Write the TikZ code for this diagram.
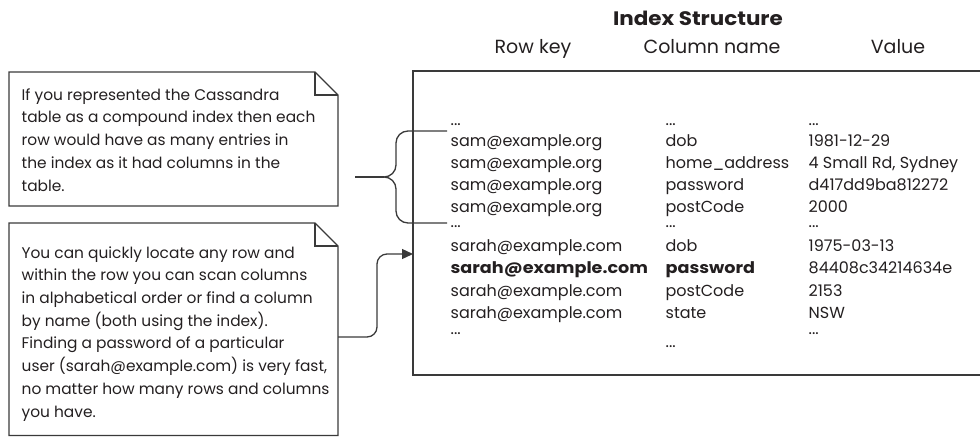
\documentclass[tikz,border=0pt]{standalone}
\usepackage{fontspec}
\setmainfont{Poppins}[BoldFeatures={FakeStretch=1.1}]
\usetikzlibrary{arrows.meta}
\definecolor{ink}{HTML}{3A3A3A}
\definecolor{txt}{HTML}{231F20}
\begin{document}
\begin{tikzpicture}[x=1pt,y=-1pt,line width=1.3pt,draw=ink,
  notetext/.style={anchor=north west,inner sep=0pt,align=left,font=\fontsize{15.4}{22.7}\selectfont,text=txt},
  cell/.style={anchor=base west,inner sep=0pt,font=\fontsize{16}{19}\selectfont,text=txt},
  bcell/.style={anchor=base west,inner sep=0pt,font=\fontsize{16}{19}\selectfont\bfseries,text=txt},
  head/.style={anchor=base,inner sep=0pt,font=\fontsize{19}{22}\selectfont,text=txt},
  title/.style={anchor=base,inner sep=0pt,font=\fontsize{19.5}{22}\selectfont\bfseries,text=txt}]
\useasboundingbox (0,0) rectangle (980,437);

% ---- note 1
\draw[line join=miter] (9,72) -- (315,72) -- (338,95) -- (338,206) -- (9,206) -- cycle;
\draw (315,72) -- (315,95) -- (338,95);
\node[notetext] (n1) at (21,87.8) {If you represented the Cassandra\\table as a compound index then each\\row would have as many entries in\\the index as it had columns in the\\table.};

% ---- note 2
\draw[line join=miter] (9,223) -- (315,223) -- (338,246) -- (338,435.5) -- (9,435.5) -- cycle;
\draw (315,223) -- (315,246) -- (338,246);
\node[notetext] (n2) at (21,245.8) {You can quickly locate any row and\\within the row you can scan columns\\in alphabetical order or find a column\\by name (both using the index).\\Finding a password of a particular\\user (sarah@example.com) is very fast,\\no matter how many rows and columns\\you have.};

% ---- titles
\node[title] (ttl) at (698,25) {Index Structure};
\node[head] (h1) at (533,53) {Row key};
\node[head] (h2) at (712,53) {Column name};
\node[head] (h3) at (898,53) {Value};

% ---- main box (open on the right, runs off the picture)
\draw (990,71) -- (413,71) -- (413,375) -- (990,375);

% ---- rows
\node[cell] (d1a) at (450,125) {...};
\node[cell] (d1b) at (665,125) {...};
\node[cell] (d1c) at (808,125) {...};

\node[cell] (s1a) at (450,146.5) {sam@example.org};
\node[cell] (s1b) at (665,146.5) {dob};
\node[cell] (s1c) at (808,146.5) {1981-12-29};
\node[cell] (s2a) at (450,168.5) {sam@example.org};
\node[cell] (s2b) at (665,168.5) {home\_address};
\node[cell] (s2c) at (808,168.5) {4 Small Rd, Sydney};
\node[cell] (s3a) at (450,190.5) {sam@example.org};
\node[cell] (s3b) at (665,190.5) {password};
\node[cell] (s3c) at (808,190.5) {d417dd9ba812272};
\node[cell] (s4a) at (450,212.5) {sam@example.org};
\node[cell] (s4b) at (665,212.5) {postCode};
\node[cell] (s4c) at (808,212.5) {2000};

\node[cell] (d2a) at (450,227) {...};
\node[cell] (d2b) at (665,227) {...};
\node[cell] (d2c) at (808,227) {...};

\node[cell] (t1a) at (450,251.5) {sarah@example.com};
\node[cell] (t1b) at (665,251.5) {dob};
\node[cell] (t1c) at (808,251.5) {1975-03-13};
\node[bcell] (t2a) at (450,273.5) {sarah@example.com};
\node[bcell] (t2b) at (665,273.5) {password};
\node[cell] (t2c) at (808,273.5) {84408c34214634e};
\node[cell] (t3a) at (450,296.5) {sarah@example.com};
\node[cell] (t3b) at (665,296.5) {postCode};
\node[cell] (t3c) at (808,296.5) {2153};
\node[cell] (t4a) at (450,318.5) {sarah@example.com};
\node[cell] (t4b) at (665,318.5) {state};
\node[cell] (t4c) at (808,318.5) {NSW};

\node[cell] (d3a) at (450,334) {...};
\node[cell] (d3b) at (665,347) {...};
\node[cell] (d3c) at (808,334) {...};

% ---- brace
\coordinate (btop) at (447,131);
\coordinate (bbot) at (447,223);
\coordinate (btip) at (384,177);
\coordinate (bstem) at (355,177);
\draw (btop) -- (408,131) to[out=180,in=90] (396,143) -- (396,165)
      to[out=-90,in=0] (btip) to[out=0,in=90] (396,189) -- (396,211)
      to[out=-90,in=180] (408,223) -- (bbot);
\draw (bstem) -- (btip);

% ---- arrow
\coordinate (a0) at (338,337);
\coordinate (a1) at (413,254);
\draw[rounded corners=10pt,-{Triangle[length=11pt,width=10pt]}] (a0) -- (377,337) -- (377,254) -- (a1);
\end{tikzpicture}
\end{document}
